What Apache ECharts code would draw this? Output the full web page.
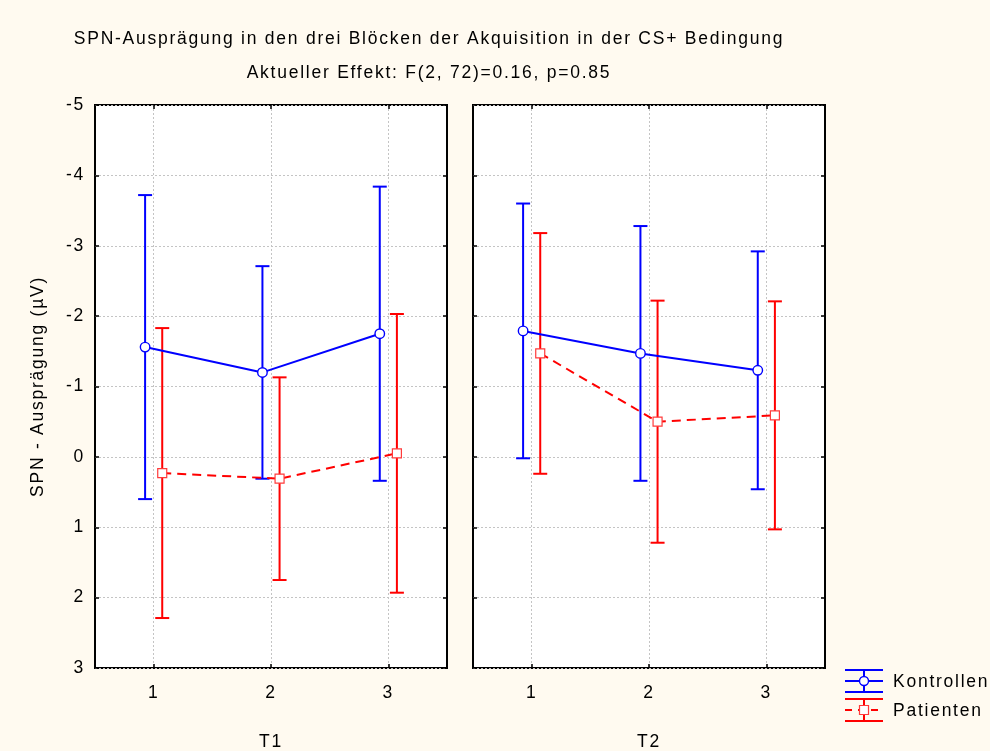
<!DOCTYPE html>
<html>
<head>
<meta charset="utf-8">
<script src="https://cdn.jsdelivr.net/npm/echarts@6/dist/echarts.min.js"></script>
<style>
html, body { margin: 0; padding: 0; background: #fffaf0; }
#chart { width: 990px; height: 751px; }
</style>
</head>
<body>
<div id="chart"></div>
<script>
// Blocks of the acquisition phase (x axis) and the two measurement panels
const blocks = [1, 2, 3];
const panels = ['T1', 'T2'];
const yTickMin = -5;
const yTickMax = 3;

// Mean SPN amplitude (µV) per block and half-length of the error bars
const kontrollenT1 = [-1.56, -1.20, -1.75];
const kontrollenT1Err = [2.16, 1.51, 2.09];
const patientenT1 = [0.23, 0.31, -0.05];
const patientenT1Err = [2.06, 1.44, 1.98];

const kontrollenT2 = [-1.79, -1.47, -1.23];
const kontrollenT2Err = [1.81, 1.81, 1.69];
const patientenT2 = [-1.47, -0.50, -0.59];
const patientenT2Err = [1.71, 1.72, 1.62];

const groupNames = ['Kontrollen', 'Patienten'];
const titleText = 'SPN-Ausprägung in den drei Blöcken der Akquisition in der CS+ Bedingung';
const subtitleText = 'Aktueller Effekt: F(2, 72)=0.16, p=0.85';
const yAxisTitle = 'SPN - Ausprägung (µV)';

const BLUE = '#0000ff';
const RED = '#ff0000';
const FONT = '"Liberation Sans", Arial, sans-serif';
const FS = 17.5;
const DODGE = 0.073; // horizontal shift of the two groups around each block

// Slightly wider tracking for all chart text (applied to both drawing and measuring)
(function () {
  const TRACKING = '1.75px';
  const P = CanvasRenderingContext2D.prototype;
  if (!('letterSpacing' in P)) return;
  const fill = P.fillText, stroke = P.strokeText, measure = P.measureText;
  P.fillText = function () { this.letterSpacing = TRACKING; return fill.apply(this, arguments); };
  P.strokeText = function () { this.letterSpacing = TRACKING; return stroke.apply(this, arguments); };
  P.measureText = function () { this.letterSpacing = TRACKING; return measure.apply(this, arguments); };
})();

const chart = echarts.init(document.getElementById('chart'), null, { renderer: 'canvas' });

const gridDefs = [
  { left: 95, top: 105, width: 352, height: 563 },
  { left: 473, top: 105, width: 352, height: 563 }
];

const gridLineStyle = { color: '#c4c4c4', width: 1, type: [2, 2] };
const tickStyle = { inside: true, length: 4, lineStyle: { color: '#000', width: 1.5 } };
const textBase = { color: '#000', fontSize: FS, fontFamily: FONT };

const xAxes = [];
const yAxes = [];
panels.forEach((p, gi) => {
  // bottom axis with labels and panel name
  xAxes.push({
    type: 'value', gridIndex: gi, min: 0.5, max: 3.5, position: 'bottom',
    axisLine: { show: false, onZero: false },
    axisTick: Object.assign({ customValues: blocks }, tickStyle),
    axisLabel: Object.assign({ customValues: blocks, margin: 15 }, textBase),
    splitLine: { show: true, lineStyle: gridLineStyle },
    name: p, nameLocation: 'middle', nameGap: 64,
    nameTextStyle: Object.assign({}, textBase)
  });
  // top axis: inner ticks only
  xAxes.push({
    type: 'value', gridIndex: gi, min: 0.5, max: 3.5, position: 'top',
    axisLine: { show: false, onZero: false },
    axisTick: Object.assign({ customValues: blocks }, tickStyle),
    axisLabel: { show: false },
    splitLine: { show: false }
  });
  yAxes.push({
    type: 'value', gridIndex: gi, inverse: true, min: yTickMin, max: yTickMax, interval: 1,
    position: 'left',
    axisLine: { show: false, onZero: false },
    axisTick: tickStyle,
    axisLabel: Object.assign({ show: gi === 0, margin: 10 }, textBase),
    splitLine: { show: true, lineStyle: gridLineStyle },
    name: gi === 0 ? yAxisTitle : '', nameLocation: 'middle', nameGap: 47, nameRotate: 90,
    nameTextStyle: Object.assign({}, textBase)
  });
  yAxes.push({
    type: 'value', gridIndex: gi, inverse: true, min: yTickMin, max: yTickMax, interval: 1,
    position: 'right',
    axisLine: { show: false, onZero: false },
    axisTick: tickStyle,
    axisLabel: { show: false },
    splitLine: { show: false }
  });
});

function errorBars(name, means, errs, dodge, color, gi) {
  return {
    type: 'custom', name: name,
    xAxisIndex: gi * 2, yAxisIndex: gi * 2, z: 2,
    data: blocks.map((b, i) => [b + dodge, means[i] - errs[i], means[i] + errs[i]]),
    encode: { x: 0, y: [1, 2] },
    renderItem: function (params, api) {
      const x = api.value(0);
      const a = api.coord([x, api.value(1)]);
      const b = api.coord([x, api.value(2)]);
      const cap = 7;
      const style = { stroke: color, lineWidth: 2 };
      return {
        type: 'group',
        children: [
          { type: 'line', shape: { x1: a[0], y1: a[1], x2: b[0], y2: b[1] }, style: style },
          { type: 'line', shape: { x1: a[0] - cap, y1: a[1], x2: a[0] + cap, y2: a[1] }, style: style },
          { type: 'line', shape: { x1: b[0] - cap, y1: b[1], x2: b[0] + cap, y2: b[1] }, style: style }
        ]
      };
    }
  };
}

function meanLine(name, means, dodge, color, gi, dashed) {
  return {
    type: 'line', name: name,
    xAxisIndex: gi * 2, yAxisIndex: gi * 2, z: 3,
    data: blocks.map((b, i) => [b + dodge, means[i]]),
    symbol: dashed ? 'rect' : 'circle',
    symbolSize: dashed ? 9 : 9.5,
    itemStyle: { color: '#ffffff', borderColor: dashed ? '#ff3b3b' : BLUE, borderWidth: dashed ? 1.2 : 1.4 },
    lineStyle: { color: color, width: 2, type: dashed ? [9, 6] : 'solid' },
    animation: false
  };
}

const series = [
  errorBars(groupNames[0], kontrollenT1, kontrollenT1Err, -DODGE, BLUE, 0),
  errorBars(groupNames[1], patientenT1, patientenT1Err, DODGE, RED, 0),
  errorBars(groupNames[0], kontrollenT2, kontrollenT2Err, -DODGE, BLUE, 1),
  errorBars(groupNames[1], patientenT2, patientenT2Err, DODGE, RED, 1),
  meanLine(groupNames[0], kontrollenT1, -DODGE, BLUE, 0, false),
  meanLine(groupNames[1], patientenT1, DODGE, RED, 0, true),
  meanLine(groupNames[0], kontrollenT2, -DODGE, BLUE, 1, false),
  meanLine(groupNames[1], patientenT2, DODGE, RED, 1, true)
];

// Legend drawn as error-bar glyphs next to the group names
function legendGlyph(y, color, dashed, marker) {
  const s = { stroke: color, lineWidth: 2 };
  const children = [
    { type: 'line', shape: { x1: 845, y1: y - 11, x2: 883, y2: y - 11 }, style: s },
    { type: 'line', shape: { x1: 845, y1: y + 11, x2: 883, y2: y + 11 }, style: s },
    { type: 'line', shape: { x1: 864, y1: y - 11, x2: 864, y2: y + 11 }, style: s },
    { type: 'line', shape: { x1: 845, y1: y, x2: 883, y2: y },
      style: { stroke: color, lineWidth: 2, lineDash: dashed ? [7, 6] : null } }
  ];
  if (marker === 'circle') {
    children.push({ type: 'circle', shape: { cx: 864, cy: y, r: 4.5 }, style: { fill: '#fff', stroke: color, lineWidth: 1.4 } });
  } else {
    children.push({ type: 'rect', shape: { x: 859.5, y: y - 4.5, width: 9, height: 9 }, style: { fill: '#fff', stroke: '#ff3b3b', lineWidth: 1.2 } });
  }
  return children;
}

const legendFont = FS + 'px ' + FONT;
const legendGraphics = [].concat(
  legendGlyph(681, BLUE, false, 'circle'),
  legendGlyph(710, RED, true, 'rect'),
  [
    { type: 'text', x: 893, y: 682, style: { text: groupNames[0], fill: '#000', font: legendFont, verticalAlign: 'middle' } },
    { type: 'text', x: 893, y: 711, style: { text: groupNames[1], fill: '#000', font: legendFont, verticalAlign: 'middle' } }
  ]
);

const option = {
  backgroundColor: '#fffaf0',
  animation: false,
  title: [
    { text: titleText, left: 429, top: 29, padding: 0, textAlign: 'center',
      textStyle: Object.assign({ fontWeight: 'normal' }, textBase) },
    { text: subtitleText, left: 429, top: 63, padding: 0, textAlign: 'center',
      textStyle: Object.assign({ fontWeight: 'normal' }, textBase) }
  ],
  grid: gridDefs.map(g => Object.assign({
    show: true, backgroundColor: '#ffffff', borderColor: '#000', borderWidth: 2,
    containLabel: false, outerBoundsMode: 'none'
  }, g)),
  xAxis: xAxes,
  yAxis: yAxes,
  series: series,
  graphic: legendGraphics
};

chart.setOption(option);
</script>
</body>
</html>
